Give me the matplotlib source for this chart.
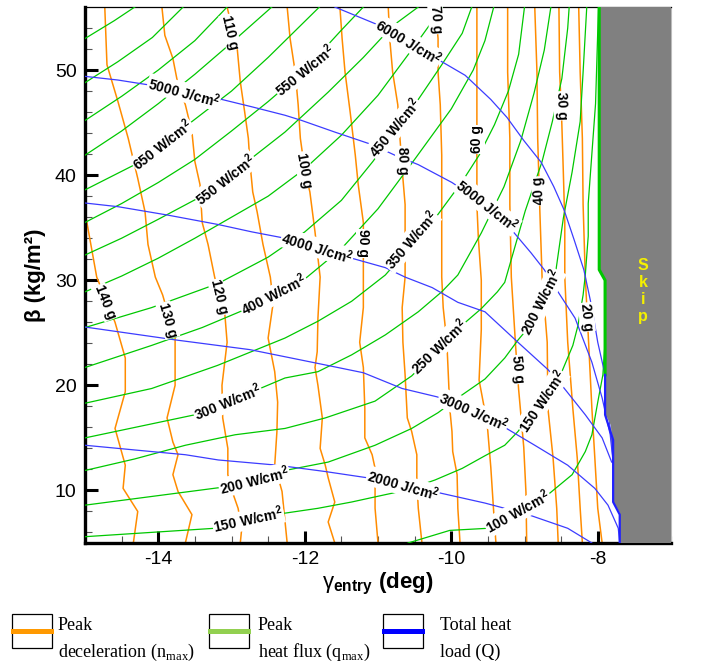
import matplotlib
matplotlib.use('Agg')
import matplotlib.pyplot as plt
from matplotlib.patches import Rectangle
from matplotlib.lines import Line2D

# ---------------- data ----------------
# Peak deceleration contours (g)
n140_x = [-15.0, -14.84, -14.59, -14.45, -14.45, -14.59, -14.45, -14.48, -14.28, -14.34]
n140_y = [36.5, 30.3, 26.0, 22.6, 19.4, 15.9, 12.4, 10.2, 8.0, 5.0]
n130_x = [-14.73, -14.70, -14.55, -14.41, -14.28, -14.18, -14.14, -14.04, -13.94, -13.77, -13.77, -13.88, -13.80, -13.73, -13.80, -13.73, -13.54, -13.63]
n130_y = [56.0, 50.5, 47.0, 43.5, 39.7, 36.5, 33.4, 30.3, 28.6, 24.5, 20.0, 16.9, 14.6, 13.4, 11.5, 9.9, 7.7, 5.0]
n120_x = [-13.95, -13.91, -13.80, -13.73, -13.63, -13.54, -13.50, -13.43, -13.40, -13.32, -13.23, -13.09, -13.06, -13.13, -13.12, -13.05, -13.05, -12.99, -12.91, -12.86, -12.88]
n120_y = [56.0, 53.3, 51.1, 48.6, 46.7, 44.1, 41.3, 39.1, 35.5, 33.4, 30.3, 26.7, 24.1, 20.0, 16.9, 14.0, 11.5, 9.9, 8.3, 6.4, 5.0]
n110_x = [-13.06, -12.92, -12.88, -12.82, -12.77, -12.75, -12.71, -12.65, -12.57, -12.47, -12.43, -12.50, -12.41, -12.37, -12.38, -12.41, -12.31, -12.24]
n110_y = [56.0, 51.9, 48.9, 46.0, 43.5, 41.3, 38.4, 36.5, 33.4, 30.3, 27.9, 24.5, 21.3, 18.4, 15.6, 12.4, 9.9, 5.0]
n100_x = [-12.24, -12.20, -12.13, -12.09, -12.06, -12.00, -11.93, -11.86, -11.79, -11.82, -11.83, -11.86, -11.82, -11.76, -11.79, -11.72, -11.68, -11.59, -11.68, -11.59]
n100_y = [56.0, 53.0, 49.8, 46.7, 43.5, 40.5, 38.4, 34.6, 30.3, 26.4, 23.2, 21.7, 20.0, 16.9, 14.0, 12.4, 11.2, 8.9, 7.0, 5.0]
n90_x = [-11.52, -11.49, -11.45, -11.38, -11.31, -11.27, -11.20, -11.20, -11.20, -11.25, -11.20, -11.18, -11.18, -11.08, -11.04, -11.04, -11.00]
n90_y = [56.0, 53.0, 49.8, 46.0, 41.9, 39.1, 35.5, 31.7, 27.4, 24.1, 21.7, 17.8, 15.0, 13.4, 12.1, 8.3, 5.0]
n80_x = [-10.86, -10.84, -10.80, -10.73, -10.70, -10.66, -10.63, -10.63, -10.63, -10.67, -10.66, -10.63, -10.60, -10.54, -10.47, -10.47, -10.45, -10.40]
n80_y = [56.0, 53.0, 49.8, 46.7, 43.5, 39.7, 37.2, 34.0, 30.3, 27.4, 24.1, 21.0, 16.9, 15.6, 13.4, 10.8, 8.3, 5.0]
n70_x = [-10.22, -10.18, -10.18, -10.15, -10.13, -10.13, -10.13, -10.11, -10.06, -10.04, -10.02, -9.99, -9.98, -9.92, -9.91, -9.88]
n70_y = [56.0, 53.0, 49.8, 46.7, 41.9, 37.2, 30.3, 27.4, 24.1, 21.0, 17.8, 15.6, 13.7, 11.5, 8.3, 5.0]
n60_x = [-9.65, -9.65, -9.65, -9.65, -9.65, -9.63, -9.59, -9.59, -9.62, -9.51, -9.46, -9.42, -9.39]
n60_y = [56.0, 51.4, 46.7, 41.6, 37.2, 34.0, 30.0, 25.3, 20.5, 16.4, 12.2, 7.9, 5.0]
n50_x = [-9.23, -9.23, -9.20, -9.20, -9.18, -9.12, -9.08, -9.01, -8.98, -8.97]
n50_y = [56.0, 49.8, 43.5, 37.2, 30.3, 23.6, 19.6, 14.1, 9.8, 5.0]
n40_x = [-8.86, -8.83, -8.82, -8.79, -8.76, -8.69, -8.68, -8.61, -8.56, -8.54]
n40_y = [56.0, 49.8, 43.5, 36.5, 30.3, 24.1, 17.8, 13.1, 8.3, 5.0]
n30_x = [-8.53, -8.52, -8.50, -8.49, -8.47, -8.45, -8.45, -8.41, -8.34, -8.28, -8.24, -8.21]
n30_y = [56.0, 49.8, 46.6, 44.8, 40.3, 35.5, 30.3, 24.1, 17.8, 13.1, 8.3, 5.0]
n20_x = [-8.26, -8.24, -8.21, -8.20, -8.17, -8.13, -8.08, -8.04, -8.00, -7.94]
n20_y = [56.0, 49.8, 43.5, 37.2, 30.3, 24.8, 17.8, 13.1, 8.3, 5.0]

# Peak heat flux contours (W/cm^2)
q850_x = [-15.0, -14.6, -14.32]
q850_y = [53.0, 54.7, 56.0]
q800_x = [-15.0, -14.55, -14.08, -13.66]
q800_y = [48.8, 50.8, 53.1, 56.0]
q750_x = [-15.0, -14.5, -14.0, -13.5, -13.06]
q750_y = [45.2, 47.5, 50.0, 52.8, 56.0]
q700_x = [-15.0, -14.5, -14.0, -13.5, -13.0, -12.45]
q700_y = [41.9, 44.2, 46.8, 49.6, 52.6, 56.0]
q650_x = [-15.0, -14.32, -13.54, -13.0, -12.5, -11.8]
q650_y = [38.6, 41.0, 45.1, 48.0, 51.2, 56.0]
q600_x = [-15.0, -14.5, -14.0, -13.5, -13.0, -12.5, -12.0, -11.5, -11.2]
q600_y = [35.5, 37.3, 39.3, 41.5, 44.2, 47.0, 50.0, 53.8, 56.0]
q550_x = [-15.0, -14.5, -14.0, -13.46, -12.71, -12.27, -11.68, -11.2, -10.8, -10.45]
q550_y = [32.4, 34.0, 35.8, 37.8, 41.7, 44.1, 47.9, 51.2, 54.2, 56.0]
q500_x = [-15.0, -14.5, -14.0, -13.5, -13.0, -12.5, -12.0, -11.5, -11.0, -10.5, -10.12]
q500_y = [28.9, 30.4, 32.1, 34.0, 36.0, 38.0, 40.6, 43.8, 47.6, 52.3, 56.0]
q450_x = [-15.0, -14.09, -13.18, -12.5, -12.0, -11.5, -11.07, -10.47, -10.13, -9.85, -9.72]
q450_y = [25.5, 27.4, 29.7, 32.2, 34.6, 37.6, 41.3, 47.0, 50.5, 53.5, 56.0]
q400_x = [-15.0, -14.09, -13.4, -12.82, -12.02, -11.5, -11.0, -10.5, -10.0, -9.7, -9.54, -9.42]
q400_y = [21.7, 23.8, 25.5, 27.2, 30.0, 33.0, 36.8, 41.5, 46.3, 50.0, 52.8, 56.0]
q350_x = [-15.0, -14.09, -13.19, -12.27, -11.82, -11.36, -10.90, -10.22, -9.85, -9.62, -9.41, -9.22, -9.08, -9.0]
q350_y = [18.3, 19.7, 21.9, 24.5, 26.1, 28.0, 30.5, 35.9, 39.4, 41.9, 44.8, 48.0, 51.5, 56.0]
q300_x = [-15.0, -13.50, -12.61, -12.27, -11.82, -11.36, -10.90, -10.45, -10.13, -9.91, -9.59, -9.28, -9.05, -8.87, -8.73, -8.64]
q300_y = [15.0, 17.2, 19.7, 20.7, 21.3, 22.9, 24.8, 27.0, 28.9, 30.5, 34.5, 38.9, 43.3, 47.8, 51.9, 56.0]
q250_x = [-15.0, -14.32, -13.63, -12.95, -12.27, -11.72, -11.04, -10.54, -9.79, -9.59, -9.37, -9.27, -8.99, -8.76, -8.62, -8.49, -8.41, -8.39]
q250_y = [11.9, 13.0, 14.3, 15.3, 15.9, 16.9, 18.5, 20.9, 26.1, 27.3, 28.9, 29.8, 36.6, 41.3, 45.1, 49.2, 54.0, 56.0]
q200_x = [-15.0, -13.13, -12.27, -11.68, -11.04, -10.54, -10.18, -9.85, -9.54, -9.27, -9.09, -8.97, -8.58, -8.47, -8.35, -8.24, -8.20, -8.15]
q200_y = [8.6, 10.3, 11.9, 12.7, 14.3, 15.9, 17.4, 19.1, 20.6, 22.6, 24.3, 25.3, 30.5, 35.9, 40.3, 45.1, 49.8, 56.0]
q150_x = [-15.0, -13.23, -12.31, -11.82, -11.36, -10.90, -10.63, -10.22, -9.85, -9.54, -9.27, -9.09, -8.49, -8.34, -8.27, -8.20, -8.17, -8.13, -8.13, -8.03, -7.99]
q150_y = [5.6, 6.4, 7.8, 8.3, 8.9, 9.6, 10.0, 11.0, 12.1, 13.3, 14.3, 15.6, 21.3, 23.8, 25.7, 28.6, 30.5, 34.2, 37.3, 46.8, 56.0]
q100_x = [-10.59, -10.02, -9.50, -8.68, -8.35, -8.17, -8.08, -8.00, -7.93, -7.90, -7.90]
q100_y = [5.0, 6.2, 6.4, 9.6, 11.5, 13.7, 15.3, 18.4, 21.0, 24.1, 30.0]

# Total heat load contours (J/cm^2)
Q6000_x = [-11.59, -11.00, -10.13, -9.81, -9.46, -9.24, -9.01, -8.77, -8.60, -8.46, -8.32, -8.19, -8.08, -8.00, -7.90, -7.86, -7.81, -7.79]
Q6000_y = [56.0, 54.3, 50.8, 49.5, 47.2, 45.5, 43.3, 41.2, 38.9, 36.7, 33.8, 31.0, 27.4, 24.1, 21.0, 17.8, 14.6, 12.7]
Q5000_x = [-15.0, -14.55, -14.14, -13.63, -13.13, -12.72, -12.27, -12.04, -11.59, -11.08, -10.77, -10.45, -9.99, -9.54, -9.14, -8.91, -8.73, -8.58, -8.31, -8.08, -7.94, -7.83, -7.79]
Q5000_y = [49.4, 49.05, 48.6, 47.9, 47.2, 46.5, 45.7, 45.2, 44.1, 42.9, 41.9, 41.0, 39.3, 37.2, 34.5, 32.6, 31.0, 29.3, 26.4, 22.2, 18.8, 15.3, 12.7]
Q4000_x = [-15.0, -14.55, -13.87, -13.18, -12.72, -12.27, -11.82, -11.36, -10.90, -10.63, -10.26, -9.91, -9.54, -9.09, -8.68, -8.49, -8.17, -7.94, -7.81]
Q4000_y = [37.35, 37.0, 36.2, 35.3, 34.6, 34.0, 33.1, 32.1, 31.2, 30.3, 29.3, 27.9, 27.0, 24.1, 21.5, 20.0, 17.2, 15.0, 12.7]
Q3000_x = [-15.0, -13.74, -12.75, -11.83, -11.20, -10.67, -10.19, -9.72, -9.27, -8.86, -8.41, -8.04, -7.86, -7.72, -7.70]
Q3000_y = [25.55, 24.3, 23.4, 22.1, 21.2, 19.7, 18.9, 17.5, 16.0, 14.3, 12.4, 10.2, 8.6, 6.4, 5.0]
Q2000_x = [-15.0, -14.09, -13.63, -13.18, -12.37, -11.72, -11.14, -10.66, -10.18, -9.54, -9.27, -8.95, -8.41, -8.08]
Q2000_y = [14.3, 13.7, 13.4, 12.9, 12.4, 11.8, 11.2, 10.4, 9.8, 8.8, 8.3, 7.7, 6.4, 5.0]

# Skip region outline
skip_x = [-7.98, -7.98, -7.89, -7.89, -7.82, -7.79, -7.79, -7.70, -7.70, -7.0, -7.0]
skip_y = [56.0, 31.0, 30.0, 17.2, 16.2, 11.9, 8.9, 7.9, 5.0, 5.0, 56.0]
skip_green_x = [-7.98, -7.98, -7.90, -7.90]
skip_green_y = [56.0, 31.0, 30.0, 21.0]
skip_blue_x = [-7.90, -7.90, -7.79, -7.79, -7.70, -7.70]
skip_blue_y = [21.0, 17.2, 14.8, 8.9, 7.7, 5.0]

# Contour labels: text, x, y, angle
decel_labels = [("140 g", -14.73, 27.9, -68), ("130 g", -13.87, 26.2, -74), ("120 g", -13.17, 28.4, -76),
                ("110 g", -13.02, 53.6, -77), ("100 g", -12.01, 40.5, -80), ("90 g", -11.20, 33.5, -90),
                ("80 g", -10.66, 41.4, -88), ("70 g", -10.21, 54.8, -86), ("60 g", -9.65, 43.4, 90),
                ("50 g", -9.10, 21.5, -84), ("40 g", -8.80, 38.5, 94), ("30 g", -8.50, 46.6, -88),
                ("20 g", -8.15, 26.5, -84)]
flux_labels = [("650 W/cm", -13.94, 42.9, 38), ("550 W/cm", -13.08, 39.6, 38), ("550 W/cm", -12.0, 50.0, 39),
               ("450 W/cm", -10.77, 44.5, 50), ("400 W/cm", -12.42, 28.6, 27), ("350 W/cm", -10.55, 33.8, 49),
               ("300 W/cm", -13.05, 18.4, 22), ("250 W/cm", -10.17, 23.7, 44), ("200 W/cm", -12.69, 11.0, 14),
               ("200 W/cm", -8.77, 27.9, 63), ("150 W/cm", -12.77, 7.2, 12), ("150 W/cm", -8.76, 18.5, 56),
               ("100 W/cm", -9.09, 8.0, 29)]
load_labels = [("5000 J/cm", -13.65, 47.9, -15), ("6000 J/cm", -10.58, 52.7, -31), ("5000 J/cm", -9.51, 37.1, -38),
               ("4000 J/cm", -11.83, 33.1, -17), ("3000 J/cm", -9.70, 17.5, -24), ("2000 J/cm", -10.66, 10.5, -16)]

# ---------------- drawing ----------------
plt.rcParams['font.family'] = ['Liberation Sans', 'DejaVu Sans']
plt.rcParams['axes.unicode_minus'] = False
plt.rcParams['mathtext.fontset'] = 'custom'
plt.rcParams['mathtext.rm'] = 'Liberation Serif'
plt.rcParams['mathtext.sf'] = 'Liberation Sans'
plt.rcParams['mathtext.bf'] = 'Liberation Sans:bold'

W, H = 728, 665
fig = plt.figure(figsize=(W / 100, H / 100), dpi=100)
ax = fig.add_axes([85 / W, 1 - 543 / H, (671 - 85) / W, (543 - 7) / H])
ax.set_xlim(-15, -7)
ax.set_ylim(5, 56)

ORANGE = '#FF8C00'
GREEN = '#00C800'
BLUE = '#3C3CFF'

for xs, ys in [(n140_x, n140_y), (n130_x, n130_y), (n120_x, n120_y), (n110_x, n110_y), (n100_x, n100_y),
               (n90_x, n90_y), (n80_x, n80_y), (n70_x, n70_y), (n60_x, n60_y), (n50_x, n50_y),
               (n40_x, n40_y), (n30_x, n30_y), (n20_x, n20_y)]:
    ax.plot(xs, ys, color=ORANGE, lw=1.1, zorder=2)

for xs, ys in [(q850_x, q850_y), (q800_x, q800_y), (q750_x, q750_y), (q700_x, q700_y), (q650_x, q650_y),
               (q600_x, q600_y), (q550_x, q550_y), (q500_x, q500_y), (q450_x, q450_y), (q400_x, q400_y),
               (q350_x, q350_y), (q300_x, q300_y), (q250_x, q250_y), (q200_x, q200_y), (q150_x, q150_y),
               (q100_x, q100_y)]:
    ax.plot(xs, ys, color=GREEN, lw=0.9, zorder=3)

for xs, ys in [(Q6000_x, Q6000_y), (Q5000_x, Q5000_y), (Q4000_x, Q4000_y), (Q3000_x, Q3000_y), (Q2000_x, Q2000_y)]:
    ax.plot(xs, ys, color=BLUE, lw=0.9, zorder=4)

ax.fill(skip_x, skip_y, color='#808080', zorder=5, lw=0)
ax.plot(skip_green_x, skip_green_y, color=GREEN, lw=2.2, zorder=6)
ax.plot(skip_blue_x, skip_blue_y, color='#2020FF', lw=1.6, zorder=6)
ax.text(-7.38, 29.0, "S\nk\ni\np", color='#F5F000', fontsize=11.5, fontweight='bold',
        ha='center', va='center', linespacing=1.17, zorder=7)

for lab in decel_labels + flux_labels + load_labels:
    t, x, y, a = lab
    if 'cm' in t:
        t = t + r'$^{\mathbf{2}}$'
    ax.text(x, y, t, fontsize=10, fontweight='bold', rotation=a, rotation_mode='anchor',
            ha='center', va='center', zorder=8,
            bbox=dict(boxstyle='square,pad=0.05', fc='white', ec='none'))

# axes styling
ax.set_xticks([-14, -12, -10, -8])
ax.set_xticks([v / 2 for v in range(-30, -13)], minor=True)
ax.set_yticks([10, 20, 30, 40, 50])
ax.set_yticks(list(range(6, 56, 2)), minor=True)
ax.tick_params(which='major', direction='in', length=9, width=2.2, labelsize=14, pad=6,
               top=False, right=False)
ax.tick_params(which='minor', direction='in', length=5, width=0.8, color='#555555', top=False, right=False)
ax.spines['left'].set_linewidth(2.4)
ax.spines['bottom'].set_linewidth(2.4)
ax.spines['top'].set_linewidth(0.9)
ax.spines['right'].set_linewidth(0.8)
ax.spines['right'].set_color('#bbbbbb')

ax.set_ylabel('β (kg/m²)', fontsize=16, fontweight='bold', labelpad=6)
ax.set_xlabel(r'$\mathsf{\gamma}_{\mathbf{entry}}$ (deg)', fontsize=16, fontweight='bold', labelpad=2)

# legend at bottom (figure pixel coordinates)
def fx(px):
    return px / W

def fy(py):
    return 1 - py / H

legend_items = [(12, '#FF9900', 'Peak', r'deceleration (n$_{\mathrm{max}}$)', 58),
                (209, '#92D050', 'Peak', r'heat flux (q$_{\mathrm{max}}$)', 258),
                (383, '#0000FF', 'Total heat', 'load (Q)', 440)]
for bx, col, l1, l2, tx in legend_items:
    fig.patches.append(Rectangle((fx(bx), fy(648)), 40 / W, 34 / H, transform=fig.transFigure,
                                 fill=False, ec='black', lw=0.9))
    fig.lines.append(Line2D([fx(bx + 1), fx(bx + 39)], [fy(631), fy(631)], transform=fig.transFigure,
                            color=col, lw=3.6))
    fig.text(fx(tx), fy(630), l1, fontsize=13, family='Liberation Serif', va='baseline')
    fig.text(fx(tx), fy(657), l2, fontsize=13, family='Liberation Serif', va='baseline')

fig.savefig('out.png', dpi=100)
